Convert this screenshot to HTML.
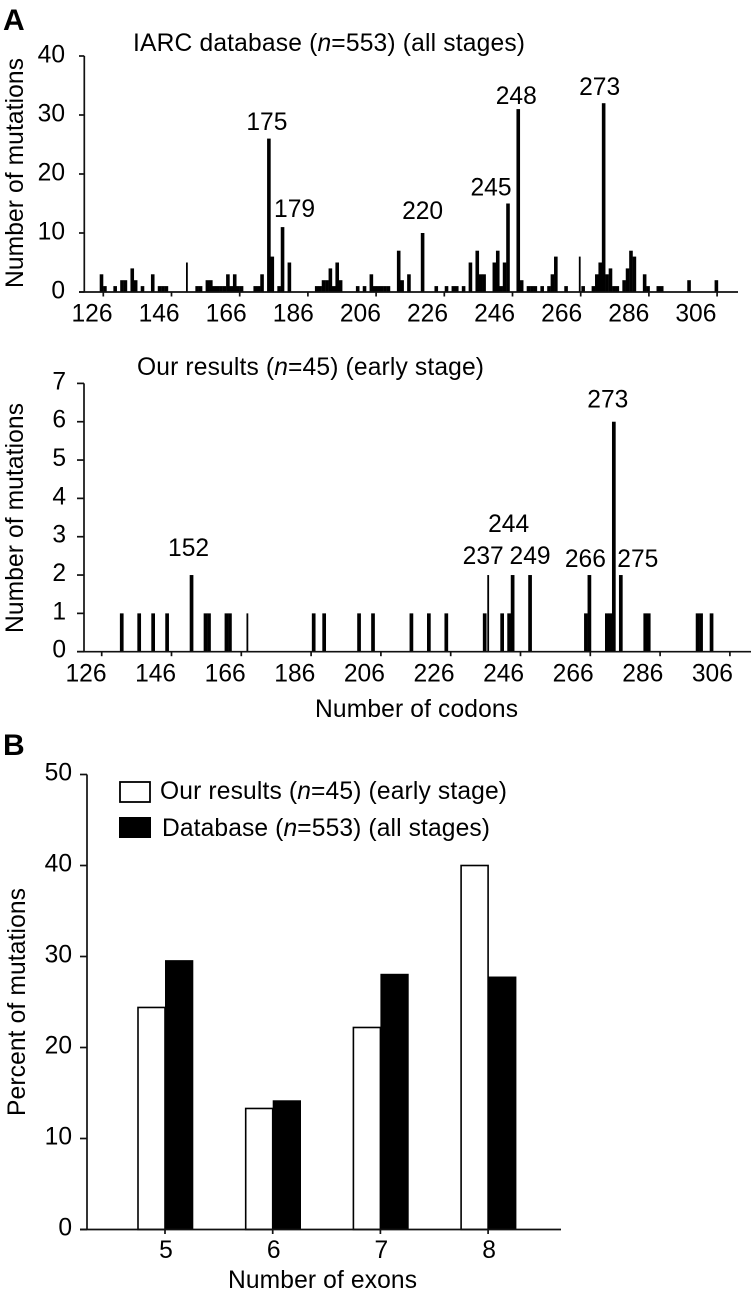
<!DOCTYPE html>
<html lang="en">
<head>
<meta charset="utf-8">
<title>Mutation distribution by codon and exon</title>
<style>
html,body{margin:0;padding:0;background:#fff;width:751px;height:1295px;overflow:hidden}
svg{display:block}
text{font-family:"Liberation Sans",Arial,sans-serif;fill:#000;font-size:24.6px}
.ital{font-style:italic}
.letter{font-weight:bold;font-size:30px}
.axis{stroke:#111;stroke-width:1.7;fill:none}
</style>
</head>
<body>
<svg id="chart" xmlns="http://www.w3.org/2000/svg" width="751" height="1295" viewBox="0 0 751 1295">
  <text class="letter" x="3" y="30">A</text>
  <text class="letter" x="3" y="755">B</text>

  <text x="133" y="51" textLength="392">IARC database (<tspan class="ital">n</tspan>=553) (all stages)</text>
  <text x="137" y="375" textLength="347">Our results (<tspan class="ital">n</tspan>=45) (early stage)</text>

  <text transform="translate(23,173) rotate(-90)" text-anchor="middle" textLength="230">Number of mutations</text>
  <text transform="translate(23,518) rotate(-90)" text-anchor="middle" textLength="230">Number of mutations</text>
  <text x="315" y="717" textLength="203">Number of codons</text>

  <text transform="translate(25,1002) rotate(-90)" text-anchor="middle" textLength="228">Percent of mutations</text>
  <text x="228" y="1288" textLength="189">Number of exons</text>

  <g>
    <rect x="120" y="782" width="30" height="20" fill="#fff" stroke="#000" stroke-width="1.8"/>
    <text x="160" y="799" textLength="347">Our results (<tspan class="ital">n</tspan>=45) (early stage)</text>
    <rect x="119" y="817" width="32" height="21" fill="#000"/>
    <text x="162" y="836" textLength="328">Database (<tspan class="ital">n</tspan>=553) (all stages)</text>
  </g>
  <g id="layer"></g>
</svg>
<script>
// Panel A, top: IARC database
const iarcCodons = [
  126,127,130,132,133,135,136,138,141,143,
  144,145,151,154,155,157,158,159,160,161,
  162,163,164,165,166,167,171,172,173,175,
  176,178,179,181,189,190,191,192,193,194,
  195,196,201,203,205,206,207,208,209,210,
  213,214,216,220,224,227,229,230,232,234,
  236,237,238,241,242,243,244,245,248,249,
  251,252,253,255,257,258,259,262,266,267,
  270,271,272,273,274,275,276,277,279,280,
  281,282,285,286,289,290,298,306];
const iarcCounts = [
  3,1,1,2,2,4,2,1,3,1,
  1,1,5,1,1,2,2,1,1,1,
  1,3,1,3,1,1,1,1,3,26,
  6,1,11,5,1,1,2,2,4,1,
  5,2,1,1,3,1,1,1,1,1,
  7,2,3,10,1,1,1,1,1,5,
  7,3,3,5,7,1,5,15,31,2,
  1,1,1,1,1,3,6,1,6,1,
  1,3,5,32,3,4,1,1,2,4,
  7,6,3,1,1,1,2,2];
const iarcXTicks = [126,146,166,186,206,226,246,266,286,306];
const iarcYTicks = [0,10,20,30,40];

// Panel A, bottom: our results
const oursCodons = [132,137,141,145,152,156,157,162,163,168,187,190,200,204,215,220,225,236,237,241,243,244,249,265,266,271,272,273,275,282,283,297,298,301];
const oursCounts = [1,1,1,1,2,1,1,1,1,1,1,1,1,1,1,1,1,1,2,1,1,2,2,1,2,1,1,6,2,1,1,1,1,1];
const oursXTicks = [126,146,166,186,206,226,246,266,286,306];
const oursYTicks = [0,1,2,3,4,5,6,7];

// Panel B: percent by exon
const exons = [5,6,7,8];
const oursPercent = [24.4,13.3,22.2,40];
const databasePercent = [29.6,14.2,28.1,27.8];
const percentTicks = [0,10,20,30,40,50];

const NS = 'http://www.w3.org/2000/svg';
const layer = document.getElementById('layer');

function el(tag, attrs, text){
  const e = document.createElementNS(NS, tag);
  for (const k in attrs) e.setAttribute(k, attrs[k]);
  if (text !== undefined) e.textContent = text;
  layer.appendChild(e);
  return e;
}

// Axis functions
const iarcX = c => 101.5 + (c - 126) * 3.416;
const iarcTickX = c => 103.3 + (c - 126) * 3.41;
const iarcLabelX = c => 92 + (c - 126) * 3.355;
const iarcY = v => 292 - v * 5.9;
const oursX = c => 100.8 + (c - 126) * 3.49;
const oursTickX = c => 101.7 + (c - 126) * 3.49;
const oursLabelX = c => 86 + (c - 126) * 3.48;
const oursY = v => 651.7 - v * 38.33;
const pctY = v => 1229.5 - v * 9.1;
const exonX = e => 165 + (e - 5) * 107.7;

function line(x1, y1, x2, y2, name){
  const e = el('line', {x1:x1, y1:y1, x2:x2, y2:y2, class:'axis'});
  
  
}
function label(x, y, txt, anchor, name){
  const e = el('text', {x:x, y:y, 'text-anchor':anchor}, txt);
  
  
}

function codonBars(prefix, codons, counts, xf, yf, width, thin){
  codons.forEach((c, i) => {
    const w = thin.includes(c) ? 1.8 : width;
    const e = el('rect', {x:xf(c) - w / 2, y:yf(counts[i]), width:w, height:yf(0) - yf(counts[i]), fill:'#000'});
    
    
  });
}

// Top chart
codonBars('iarc', iarcCodons, iarcCounts, iarcX, iarcY, 3.6, [151, 266]);
line(84.3, iarcY(40), 84.3, iarcY(0), 'iarc-y-axis');
line(79, iarcY(0), 738, iarcY(0), 'iarc-x-axis');
iarcYTicks.forEach(t => {
  line(79, iarcY(t), 84.3, iarcY(t), 'iarc-y-tick-' + t);
  label(65, iarcY(t) + 6.5, String(t), 'end', 'iarc-y-label-' + t);
});
iarcXTicks.forEach(t => {
  line(iarcTickX(t), iarcY(0), iarcTickX(t), iarcY(0) + 4.5, 'iarc-x-tick-' + t);
  label(iarcLabelX(t), 321.7, String(t), 'middle', 'iarc-x-label-' + t);
});
function iarcPeak(c, dx, dy){
  const v = iarcCounts[iarcCodons.indexOf(c)];
  label(iarcX(c) + dx, iarcY(v) + dy, String(c), 'middle', 'iarc-peak-label-' + c);
}
iarcPeak(175, -2, -8.6);
iarcPeak(179, 12, -10);
iarcPeak(220, 0, -14);
iarcPeak(245, -17, -8);
iarcPeak(248, -2, -5);
iarcPeak(273, -4, -8);

// Middle chart
codonBars('ours', oursCodons, oursCounts, oursX, oursY, 3.7, [168, 237]);
line(84, oursY(7), 84, oursY(0), 'ours-y-axis');
line(77, oursY(0), 751, oursY(0), 'ours-x-axis');
oursYTicks.forEach(t => {
  line(77, oursY(t), 84, oursY(t), 'ours-y-tick-' + t);
  label(66, oursY(t) + 6, String(t), 'end', 'ours-y-label-' + t);
});
oursXTicks.forEach(t => {
  line(oursTickX(t), oursY(0), oursTickX(t), oursY(0) + 4.5, 'ours-x-tick-' + t);
  label(oursLabelX(t), 681.7, String(t), 'middle', 'ours-x-label-' + t);
});
function oursPeak(c, dx, dy){
  const v = oursCounts[oursCodons.indexOf(c)];
  label(oursX(c) + dx, oursY(v) + dy, String(c), 'middle', 'ours-peak-label-' + c);
}
oursPeak(152, -3, -19);
oursPeak(273, -6, -14);
oursPeak(244, -4, -43);
oursPeak(237, -5, -11);
oursPeak(249, 0, -11);
oursPeak(266, -4, -8);
oursPeak(275, 17, -8);

// Bottom chart
exons.forEach((ex, i) => {
  const cx = exonX(ex);
  const w = el('rect', {x:cx - 27, y:pctY(oursPercent[i]), width:27, height:pctY(0) - pctY(oursPercent[i]), fill:'#fff', stroke:'#000', 'stroke-width':1.6});
  
  
  const b = el('rect', {x:cx, y:pctY(databasePercent[i]), width:28.3, height:pctY(0) - pctY(databasePercent[i]), fill:'#000'});
  
  
  line(cx, pctY(0), cx, pctY(0) + 4.5, 'exon-x-tick-' + ex);
  label(cx + 1, 1258, String(ex), 'middle', 'exon-x-label-' + ex);
});
line(87, pctY(50), 87, pctY(0), 'percent-y-axis');
line(80, pctY(0), 561, pctY(0), 'exon-x-axis');
percentTicks.forEach(t => {
  line(80, pctY(t), 87, pctY(t), 'percent-y-tick-' + t);
  label(72, pctY(t) + 6, String(t), 'end', 'percent-y-label-' + t);
});
</script>
</body>
</html>
